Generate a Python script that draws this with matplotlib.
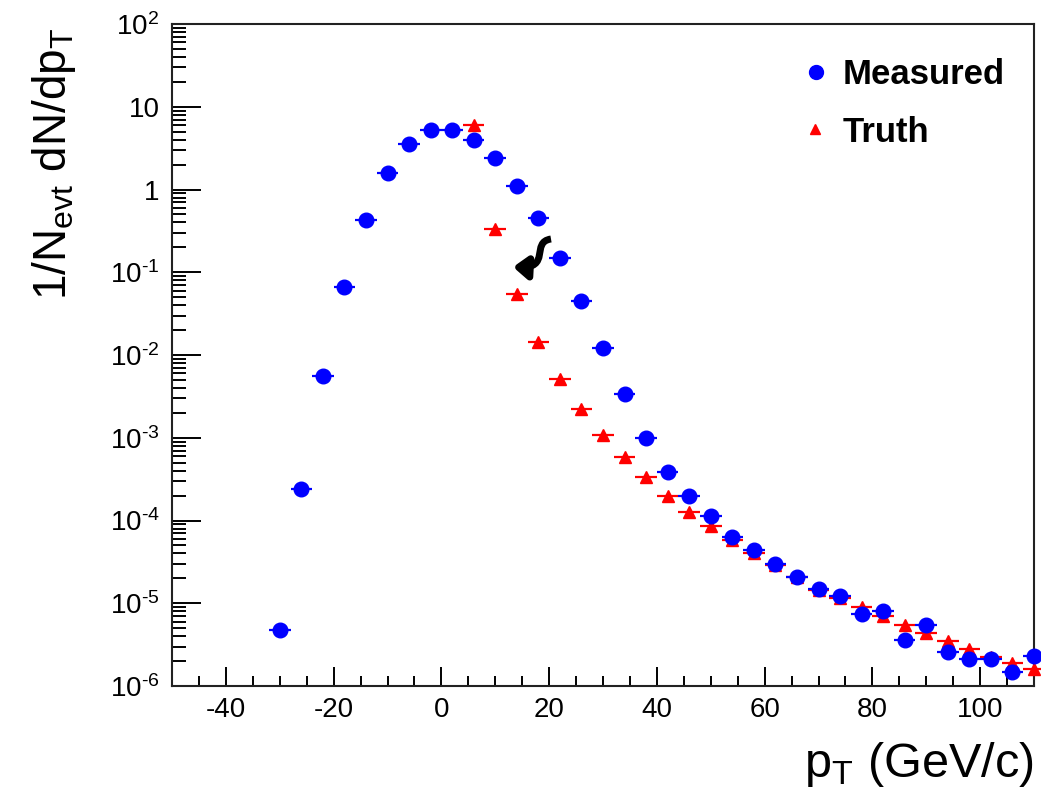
import numpy as np
import matplotlib
matplotlib.use("Agg")
import matplotlib.pyplot as plt
from matplotlib.path import Path
from matplotlib.patches import FancyArrowPatch
from matplotlib.ticker import FixedLocator, FixedFormatter, MultipleLocator, LogLocator, NullFormatter

plt.rcParams['font.family'] = ['Liberation Sans', 'DejaVu Sans']
plt.rcParams['mathtext.fontset'] = 'custom'
plt.rcParams['mathtext.rm'] = 'Liberation Sans'
plt.rcParams['mathtext.it'] = 'Liberation Sans:italic'
plt.rcParams['mathtext.bf'] = 'Liberation Sans:bold'
plt.rcParams['axes.unicode_minus'] = False

# ---- data ----
measured_pt = [-30, -26, -22, -18, -14, -10, -6, -2, 2, 6, 10, 14, 18, 22, 26, 30, 34, 38,
               42, 46, 50, 54, 58, 62, 66, 70, 74, 78, 82, 86, 90, 94, 98, 102, 106, 110]
measured_val = [4.8e-6, 2.4e-4, 5.5e-3, 0.066, 0.43, 1.58, 3.5, 5.2, 5.3, 4.0, 2.4, 1.1,
                0.45, 0.148, 0.045, 0.0121, 3.4e-3, 1.0e-3, 3.86e-4, 1.96e-4, 1.12e-4,
                6.4e-5, 4.4e-5, 2.95e-5, 2.07e-5, 1.5e-5, 1.24e-5, 7.5e-6, 8.0e-6, 3.6e-6,
                5.4e-6, 2.6e-6, 2.1e-6, 2.14e-6, 1.48e-6, 2.3e-6]
truth_pt = [6, 10, 14, 18, 22, 26, 30, 34, 38, 42, 46, 50, 54, 58, 62, 66, 70, 74, 78,
            82, 86, 90, 94, 98, 102, 106, 110]
truth_val = [6.0, 0.33, 0.054, 0.0144, 5.2e-3, 2.2e-3, 1.07e-3, 5.9e-4, 3.36e-4, 2.0e-4,
             1.27e-4, 8.5e-5, 5.8e-5, 4.0e-5, 2.87e-5, 2.05e-5, 1.45e-5, 1.17e-5, 9.0e-6,
             7.0e-6, 5.4e-6, 4.36e-6, 3.47e-6, 2.83e-6, 2.24e-6, 1.91e-6, 1.59e-6]
bin_half_width = 2
y_tick_values = [1e-6, 1e-5, 1e-4, 1e-3, 1e-2, 1e-1, 1, 10, 100]
y_tick_labels = [r'$10^{\text{-}6}$', r'$10^{\text{-}5}$', r'$10^{\text{-}4}$',
                 r'$10^{\text{-}3}$', r'$10^{\text{-}2}$', r'$10^{\text{-}1}$',
                 '1', '10', r'$10^{2}$']
x_tick_values = [-40, -20, 0, 20, 40, 60, 80, 100]

W, H = 1041, 790
fig = plt.figure(figsize=(W / 100, H / 100), dpi=100)
ax = fig.add_axes([172 / W, 1 - 686 / H, (1034 - 172) / W, (686 - 24) / H])

ax.set_yscale('log')
ax.set_xlim(-50, 110)
ax.set_ylim(1e-6, 1e2)

ax.errorbar(truth_pt, truth_val, xerr=bin_half_width, fmt='^', color='#ff0000',
            markersize=8.5, elinewidth=1.6, capsize=0, clip_on=False, zorder=3)
ax.errorbar(measured_pt, measured_val, xerr=bin_half_width, fmt='o', color='#0000ff',
            markersize=10.5, elinewidth=1.6, capsize=0, clip_on=False, zorder=4)

# ticks
ax.yaxis.set_major_locator(FixedLocator(y_tick_values))
ax.yaxis.set_major_formatter(FixedFormatter(y_tick_labels))
ax.yaxis.set_minor_locator(LogLocator(base=10, subs=np.arange(2, 10), numticks=20))
ax.yaxis.set_minor_formatter(NullFormatter())
ax.xaxis.set_major_locator(FixedLocator(x_tick_values))
ax.xaxis.set_minor_locator(MultipleLocator(5))

ax.tick_params(axis='y', which='major', direction='in', length=21, width=1.4,
               labelsize=20, pad=9, right=False)
ax.tick_params(axis='y', which='minor', direction='in', length=10, width=1.4, right=False)
ax.tick_params(axis='x', which='major', direction='in', length=14, width=1.4,
               labelsize=20, pad=8, top=False)
ax.tick_params(axis='x', which='minor', direction='in', length=7.5, width=1.4, top=False)
for s in ax.spines.values():
    s.set_linewidth(1.5)
    s.set_color('#222222')

# axis titles
fig.text(1034 / W, 1 - 777 / H, r'p$_{\mathrm{T}}$ (GeV/c)', fontsize=35,
         ha='right', va='baseline')
fig.text(54 / W, 1 - 164 / H, r'1/N$_{\mathrm{evt}}$ dN/dp$_{\mathrm{T}}$', fontsize=33,
         rotation=90, ha='center', va='center')

# legend (manual, ROOT-style)
fig.lines.extend([
    plt.Line2D([816 / W], [1 - 72 / H], marker='o', color='#0000ff', markersize=10,
               transform=fig.transFigure, figure=fig),
    plt.Line2D([815 / W], [1 - 129 / H], marker='^', color='#ff0000', markersize=7.5,
               transform=fig.transFigure, figure=fig),
])
fig.text(843 / W, 1 - 75 / H, 'Measured', fontsize=25, fontweight='bold',
         ha='left', va='center')
fig.text(843 / W, 1 - 132 / H, 'Truth', fontsize=25, fontweight='bold',
         ha='left', va='center')

# curly arrow annotation
verts = [(551 / W, 1 - 239 / H), (530 / W, 1 - 242 / H), (552 / W, 1 - 269 / H),
         (513 / W, 1 - 267 / H)]
path = Path(verts, [Path.MOVETO, Path.CURVE4, Path.CURVE4, Path.CURVE4])
arrow = FancyArrowPatch(path=path, arrowstyle='-|>,head_length=0.42,head_width=0.33',
                        mutation_scale=20, linewidth=5.0, color='black', shrinkA=0, shrinkB=0,
                        transform=fig.transFigure, capstyle='butt', joinstyle='round')
fig.patches.append(arrow)

fig.savefig('out.png', dpi=100)
